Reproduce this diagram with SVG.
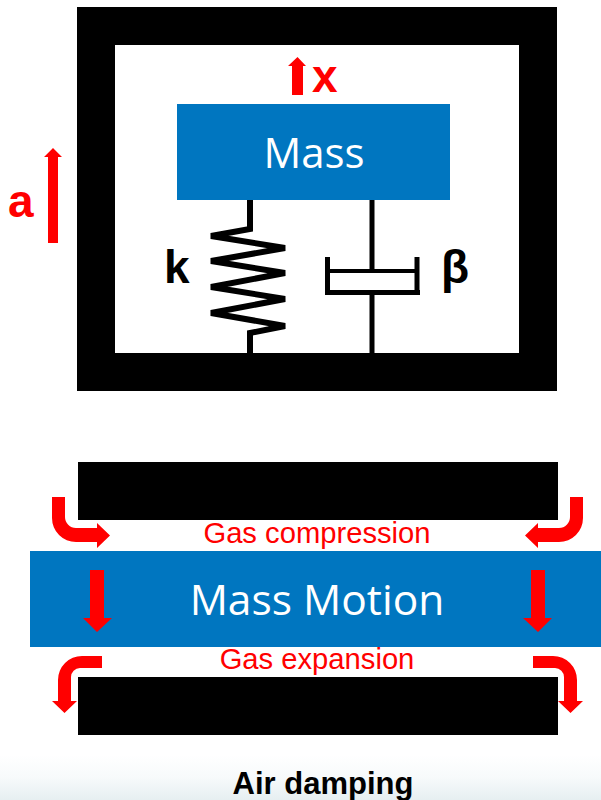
<svg xmlns="http://www.w3.org/2000/svg" width="601" height="800" viewBox="0 0 601 800">
  <style>
    .blk{fill:#000}
    .blue{fill:#0076c0}
    .red{fill:#f00}
    .ln{fill:none;stroke:#000;stroke-width:5}
    .spring{fill:none;stroke:#000;stroke-width:6}
    text{font-family:"Liberation Sans",Arial,sans-serif}
    .big{font-family:"Open Sans","Noto Sans",sans-serif;fill:#fff;text-anchor:middle}
    .lab{font-weight:bold;font-size:46px}
    .gas{font-size:29.200px;fill:#f00;text-anchor:middle}
  </style>
  <defs>
    <linearGradient id="fade" x1="0" y1="0" x2="0" y2="1">
      <stop offset="0" stop-color="#fff"/>
      <stop offset="0.5" stop-color="#f7fafb"/>
      <stop offset="1" stop-color="#e6eff1"/>
    </linearGradient>
    <g id="arrows-side">
      <path class="red" d="M52,497H65V517A11,11 0 0 0 76,528H97V523L110,535.500L97,548V542H76A24,24 0 0 1 52,518Z"/>
      <path class="red" d="M90,570H104V618H112L97,632L83,618H90Z"/>
      <path class="red" d="M102,656V668H80A9,9 0 0 0 71,677V701H77L64.500,713L52,701H58V680A24,24 0 0 1 82,656Z"/>
    </g>
  </defs>
  <rect width="601" height="800" fill="#fff"/>
  <rect y="755" width="601" height="45" fill="url(#fade)"/>

  <g id="frame"><path class="blk" fill-rule="evenodd" d="M77,7H557V391H77ZM115,45V353H519V45Z"/></g>
  <g id="mass"><rect class="blue" x="177" y="104" width="273" height="96"/><text class="big" x="314" y="168" font-size="42">Mass</text></g>
  <g id="connectors">
    <polyline class="spring" points="250,200 250,229 211,236 285,248 211,261 285,273 211,287 285,299 211,313 285,326 250,333 250,353"/>
    <path class="ln" d="M372,200V270M372,292V353"/>
    <path class="ln" d="M327.500,257V295M417,257V295M325,292.500H420"/>
    <path d="M327,271H417" fill="none" stroke="#000" stroke-width="4"/>
  </g>
  <g id="label-k"><text class="lab" x="164" y="283">k</text></g>
  <g id="label-beta"><text class="lab" x="441" y="283">β</text></g>
  <g id="arrow-x">
    <path class="red" d="M292,95V66H288L297.500,57L306,66H303V95Z"/>
    <text class="lab red" x="312" y="92">x</text>
  </g>
  <g id="arrow-a">
    <path class="red" d="M48,243V157H44L53,148L62,157H58V243Z"/>
    <text class="lab red" x="8" y="217">a</text>
  </g>

  <g id="plate-top"><rect class="blk" x="78" y="462" width="480" height="58"/></g>
  <g id="mass-motion"><rect class="blue" x="30" y="551" width="571" height="96"/><text class="big" x="317" y="615" font-size="42.500">Mass Motion</text></g>
  <g id="plate-bottom"><rect class="blk" x="78" y="677" width="480" height="58"/></g>
  <g id="flow-left"><use href="#arrows-side"/></g>
  <g id="flow-right"><use href="#arrows-side" transform="translate(635,0) scale(-1,1)"/></g>
  <g id="label-compression"><text class="gas" x="317" y="543">Gas compression</text></g>
  <g id="label-expansion"><text class="gas" x="317" y="669">Gas expansion</text></g>
  <g id="caption"><text x="323" y="793.500" font-size="31" font-weight="bold" text-anchor="middle" fill="#000">Air damping</text></g>
</svg>
